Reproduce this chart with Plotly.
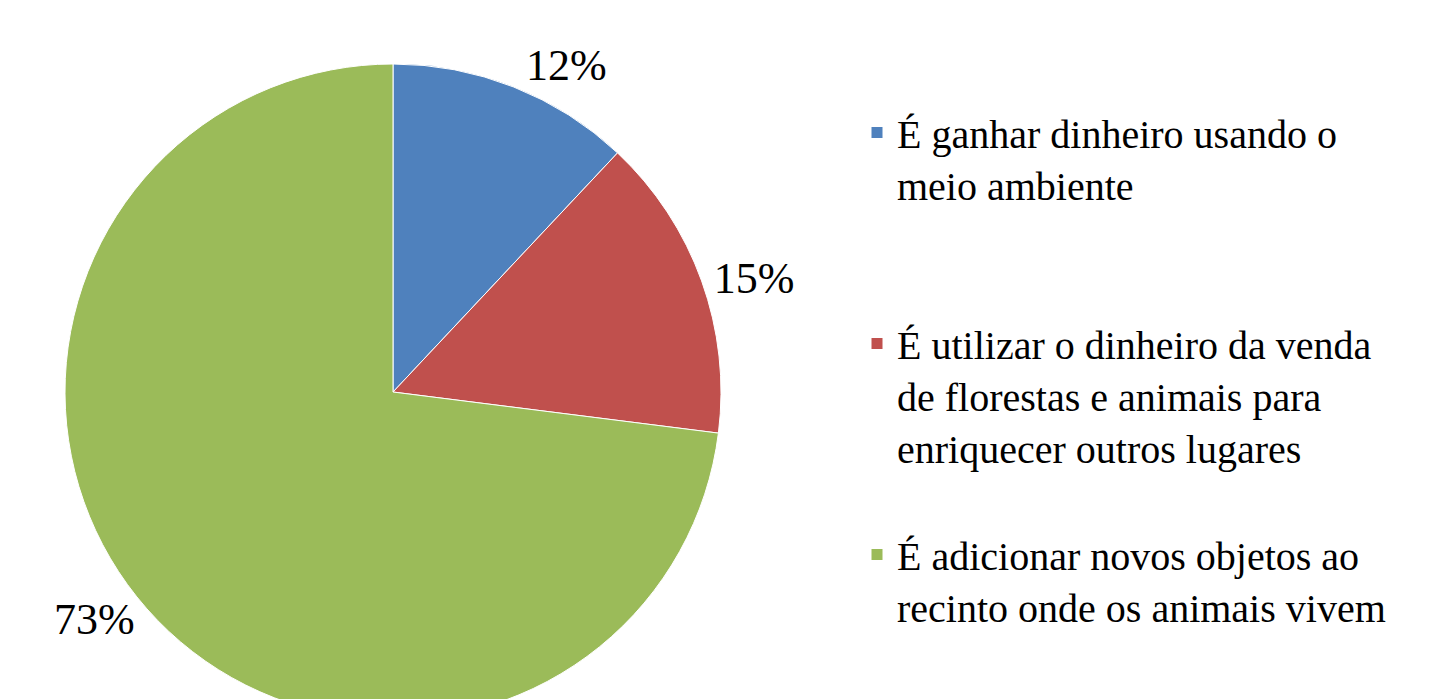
import plotly.graph_objects as go

labels = [
    "É ganhar dinheiro usando o<br>meio ambiente<br> <br> ",
    "É utilizar o dinheiro da venda<br>de florestas e animais para<br>enriquecer outros lugares<br> ",
    "É adicionar novos objetos ao<br>recinto onde os animais vivem",
]
values = [12, 15, 73]
colors = ["#4F81BD", "#C0504D", "#9BBB59"]
text_labels = ["12%", "15%", "73%"]

W, H = 1456, 784
off = 8  # page body margin
cx, cy, r = 393 - off, 392 - off, 328

fig = go.Figure(go.Pie(
    labels=labels,
    values=values,
    text=text_labels,
    textinfo="text",
    textposition="outside",
    sort=False,
    direction="clockwise",
    rotation=0,
    marker=dict(colors=colors, line=dict(color="white", width=1)),
    outsidetextfont=dict(family="Liberation Serif", size=44, color="black"),
    domain=dict(x=[(cx - r) / W, (cx + r) / W], y=[(H - cy - r) / H, (H - cy + r) / H]),
    showlegend=True,
))

fig.update_layout(
    width=W, height=H,
    margin=dict(l=0, r=0, t=0, b=0),
    paper_bgcolor="white",
    plot_bgcolor="white",
    font=dict(family="Liberation Serif", size=40, color="black"),
    legend=dict(
        x=(849) / W, y=1 - 92 / H, xanchor="left", yanchor="top",
        valign="top",
        font=dict(family="Liberation Serif", size=40, color="black"),
        itemwidth=30,
    ),
)

fig.write_html("out.html")
